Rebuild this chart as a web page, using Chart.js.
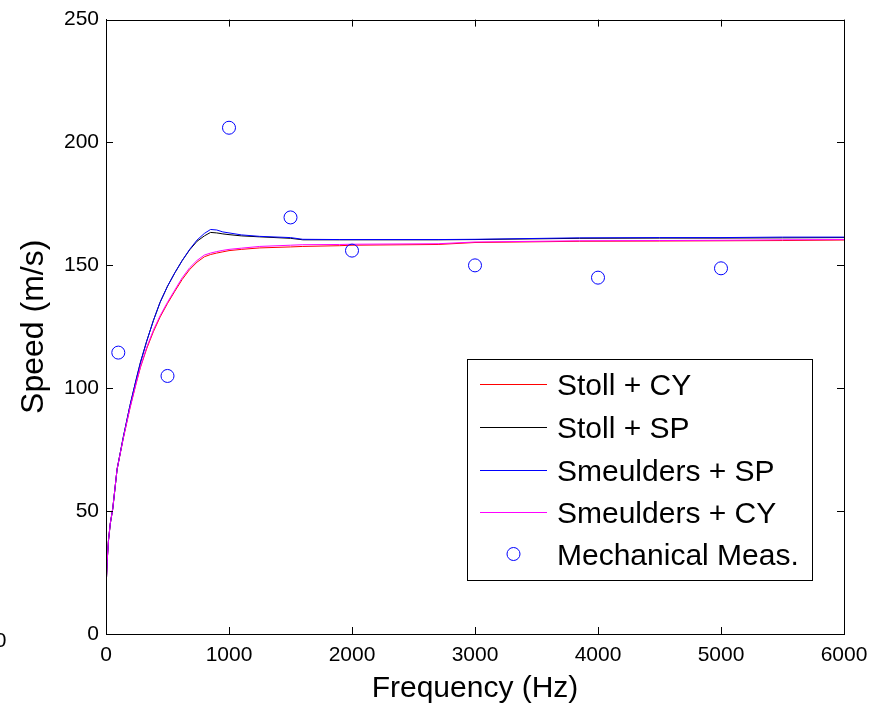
<!DOCTYPE html>
<html>
<head>
<meta charset="utf-8">
<script src="https://cdn.jsdelivr.net/npm/chart.js@4"></script>
<style>
  body { margin: 0; background: #fff; }
  #chart { display: block; }
</style>
</head>
<body>
<canvas id="chart" width="878" height="709"></canvas>
<script>
/* Data */
const freqHz = [0, 10, 20, 35, 55, 90, 140, 195, 245, 280, 330, 385, 440, 500, 560, 620, 680, 740, 800, 850, 900, 950, 1000, 1100, 1250, 1500, 1600, 1900, 2000, 2700, 3000, 3850, 4500, 5000, 5500, 6000];

const stollCY = [18, 30, 38, 45, 51, 67, 79.5, 92, 102, 108.5, 116, 123, 129, 134.5, 139.5, 144.3, 148.3, 151.3, 153.5, 154.4, 155, 155.5, 156, 156.5, 157.1, 157.5, 157.7, 158, 158.2, 158.5, 159.3, 159.8, 159.9, 160, 160.1, 160.3];
const stollSP = [18, 30, 38, 45, 51, 67, 80, 93, 103.5, 110.5, 119, 127.5, 135, 141.5, 147, 152, 156.3, 159.8, 162, 163.4, 163.2, 162.8, 162.5, 162, 161.6, 161, 160.4, 160.4, 160.4, 160.4, 160.5, 161, 161.1, 161.1, 161.2, 161.3];
const smeuldersSP = [18, 30, 38, 45, 51, 67, 80, 93, 103.5, 110.5, 119, 127.5, 135, 141.5, 147, 152, 156.5, 160.3, 163, 164.6, 164.4, 163.6, 163.2, 162.4, 161.8, 161.3, 160.6, 160.5, 160.5, 160.5, 160.6, 161.2, 161.3, 161.3, 161.5, 161.5];
const smeuldersCY = [18, 30, 38, 45, 51, 67, 79.5, 92, 102, 108.7, 116.5, 123.6, 129.5, 135, 140, 145, 149, 152, 154.2, 155, 155.6, 156.1, 156.5, 157, 157.7, 158.2, 158.4, 158.5, 158.6, 158.8, 159.5, 160, 160.1, 160.2, 160.4, 160.5];

const measFreq = [100, 500, 1000, 1500, 2000, 3000, 4000, 5000];
const measSpeed = [114.5, 105, 206, 169.5, 156, 150, 145, 148.8];

const seriesLabels = ["Stoll + CY", "Stoll + SP", "Smeulders + SP", "Smeulders + CY", "Mechanical Meas."];
const seriesColors = ["#ff0000", "#000000", "#0000ff", "#ff00ff", "#0000ff"];

const xMin = 0, xMax = 6000, xStep = 1000;
const yMin = 0, yMax = 250, yStep = 50;

const FONT = "'Liberation Sans', Arial, sans-serif";

function toPoints(xs, ys) {
  return xs.map((x, i) => ({ x: x, y: ys[i] }));
}

function lineSet(i, values, order) {
  return {
    label: seriesLabels[i],
    data: toPoints(freqHz, values),
    showLine: true,
    borderColor: seriesColors[i],
    borderWidth: 1,
    pointRadius: 0,
    fill: false,
    order: order
  };
}


/* Axes box, inward ticks, legend */
const matlabLook = {
  id: "matlabLook",
  afterDraw(chart) {
    const ctx = chart.ctx;
    const a = chart.chartArea;
    const xs = chart.scales.x, ys = chart.scales.y;
    const tl = 7;

    ctx.save();
    ctx.strokeStyle = "#000";
    ctx.lineWidth = 1;
    ctx.strokeRect(Math.round(a.left) + 0.5, Math.round(a.top) + 0.5,
                   Math.round(a.right - a.left), Math.round(a.bottom - a.top));

    ctx.beginPath();
    xs.ticks.forEach(t => {
      const px = Math.round(xs.getPixelForValue(t.value)) + 0.5;
      ctx.moveTo(px, a.bottom); ctx.lineTo(px, a.bottom - tl);
      ctx.moveTo(px, a.top); ctx.lineTo(px, a.top + tl);
    });
    ys.ticks.forEach(t => {
      const py = Math.round(ys.getPixelForValue(t.value)) + 0.5;
      ctx.moveTo(a.left, py); ctx.lineTo(a.left + tl, py);
      ctx.moveTo(a.right, py); ctx.lineTo(a.right - tl, py);
    });
    ctx.stroke();

    // clipped tick label at far left
    ctx.fillStyle = "#000";
    ctx.font = "21px " + FONT;
    ctx.textAlign = "center";
    ctx.textBaseline = "middle";
    ctx.fillText("0", 0.5, 641);

    // legend
    const box = { left: 467, top: 359, right: 812, bottom: 580 };
    ctx.fillStyle = "#fff";
    ctx.fillRect(box.left, box.top, box.right - box.left, box.bottom - box.top);
    ctx.strokeRect(box.left + 0.5, box.top + 0.5, box.right - box.left, box.bottom - box.top);

    const rowY = [384, 427, 470, 512, 554];
    ctx.font = "30px " + FONT;
    ctx.textAlign = "left";
    ctx.textBaseline = "alphabetic";
    chart.data.datasets.forEach((ds, i) => {
      const y = rowY[i];
      ctx.strokeStyle = ds.borderColor;
      ctx.lineWidth = 1;
      ctx.beginPath();
      if (ds.showLine) {
        ctx.moveTo(480, y + 0.5);
        ctx.lineTo(547, y + 0.5);
      } else {
        ctx.arc(513.5, y, 6.5, 0, Math.PI * 2);
      }
      ctx.stroke();
      ctx.fillStyle = "#000";
      ctx.fillText(ds.label, 557, y + 11);
    });
    ctx.restore();
  }
};


/* Chart */
new Chart(document.getElementById("chart"), {
  type: "scatter",
  data: {
    datasets: [
      lineSet(0, stollCY, 5),
      lineSet(1, stollSP, 4),
      lineSet(2, smeuldersSP, 3),
      lineSet(3, smeuldersCY, 2),
      {
        label: seriesLabels[4],
        data: toPoints(measFreq, measSpeed),
        showLine: false,
        pointStyle: "circle",
        pointRadius: 6.5,
        pointBorderWidth: 1,
        pointBackgroundColor: "rgba(0,0,0,0)",
        borderColor: seriesColors[4],
        pointBorderColor: seriesColors[4],
        order: 1
      }
    ]
  },
  options: {
    responsive: false,
    animation: false,
    devicePixelRatio: 1,
    layout: { padding: { left: 0, right: 34, top: 19, bottom: 0 } },
    plugins: {
      legend: { display: false },
      tooltip: { enabled: false }
    },
    scales: {
      x: {
        type: "linear",
        min: xMin, max: xMax,
        afterFit: s => { s.height = 75; },
        grid: { display: false, drawTicks: false },
        border: { display: true, color: "#000", width: 1 },
        ticks: { stepSize: xStep, padding: 9, color: "#000", font: { family: FONT, size: 21 },
                 callback: v => String(v) },
        title: { display: true, text: "Frequency (Hz)", color: "#000",
                 font: { family: FONT, size: 30 }, padding: { top: 0, bottom: 2 } }
      },
      y: {
        type: "linear",
        min: yMin, max: yMax,
        afterFit: s => { s.width = 106; },
        grid: { display: false, drawTicks: false },
        border: { display: true, color: "#000", width: 1 },
        ticks: { stepSize: yStep, padding: 7, color: "#000", font: { family: FONT, size: 21 },
                 callback: v => String(v) },
        title: { display: true, text: "Speed (m/s)", color: "#000",
                 font: { family: FONT, size: 32 }, padding: { top: 15, bottom: 0 } }
      }
    }
  },
  plugins: [matlabLook]
});
</script>
</body>
</html>
